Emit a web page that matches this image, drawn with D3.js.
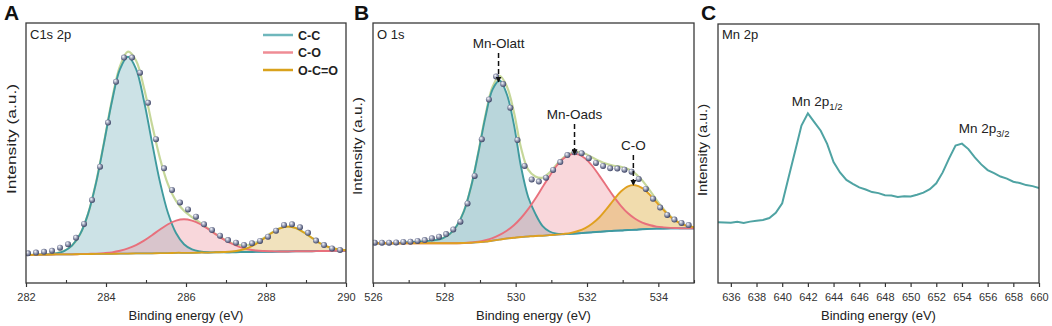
<!DOCTYPE html>
<html>
<head>
<meta charset="utf-8">
<script src="https://cdn.jsdelivr.net/npm/d3@7"></script>
<style>
  body { margin: 0; background: #fff; }
  svg { display: block; font-family: "Liberation Sans", Arial, sans-serif; }
</style>
</head>
<body>
<div id="chart"></div>
<script>
// ---------- Panel A : C1s (component grid + measured points) ----------
const cEnergy = [281.95, 282.15, 282.35, 282.55, 282.75, 282.95, 283.15, 283.35, 283.55, 283.75, 283.95, 284.15, 284.35, 284.55,
  284.75, 284.95, 285.15, 285.35, 285.55, 285.75, 285.95, 286.15, 286.35, 286.55, 286.75, 286.95, 287.15, 287.35, 287.55,
  287.75, 287.95, 288.15, 288.35, 288.55, 288.75, 288.95, 289.15, 289.35, 289.55, 289.75, 289.95, 290.15];
const cBase = [10.8, 10.8, 10.9, 10.9, 11.0, 11.0, 11.0, 11.1, 11.1, 11.2, 11.2, 11.2, 11.3, 11.3, 11.4, 11.4, 11.4, 11.5,
  11.5, 11.6, 11.6, 11.6, 11.7, 11.7, 11.8, 11.8, 11.8, 11.9, 11.9, 12.0, 12.0, 12.0, 12.1, 12.1, 12.2, 12.2, 12.2, 12.3,
  12.3, 12.4, 12.4, 12.4];
const cCC = [10.8, 10.8, 10.9, 11.0, 11.4, 12.3, 14.4, 18.7, 26.5, 38.4, 53.8, 69.9, 82.3, 87.0, 82.4, 70.0, 54.1, 38.8,
  26.9, 19.2, 14.9, 12.9, 12.1, 11.8, 11.8, 11.8, 11.8, 11.9, 11.9, 12.0, 12.0, 12.0, 12.1, 12.1, 12.2, 12.2, 12.2, 12.3,
  12.3, 12.4, 12.4, 12.4];
const cCO = [10.8, 10.8, 10.9, 10.9, 11.0, 11.0, 11.0, 11.1, 11.2, 11.3, 11.5, 11.8, 12.4, 13.3, 14.6, 16.3, 18.4, 20.6,
  22.6, 24.0, 24.5, 24.0, 22.7, 20.8, 18.7, 16.7, 15.1, 13.8, 13.0, 12.5, 12.3, 12.2, 12.1, 12.1, 12.2, 12.2, 12.2, 12.3,
  12.3, 12.4, 12.4, 12.4];
const cOCO = [10.8, 10.8, 10.9, 10.9, 11.0, 11.0, 11.0, 11.1, 11.1, 11.2, 11.2, 11.2, 11.3, 11.3, 11.4, 11.4, 11.4, 11.5,
  11.5, 11.6, 11.6, 11.6, 11.7, 11.7, 11.8, 11.9, 12.1, 12.6, 13.5, 15.0, 17.1, 19.3, 21.0, 21.7, 21.1, 19.4, 17.3, 15.3,
  13.9, 13.1, 12.7, 12.5];
const cFit = [10.8, 10.8, 10.9, 11.0, 11.4, 12.3, 14.4, 18.7, 26.5, 38.6, 54.1, 70.5, 83.4, 89.0, 85.6, 75.0, 61.0, 47.9,
  37.9, 31.6, 27.8, 25.3, 23.2, 21.0, 18.7, 16.8, 15.3, 14.6, 14.6, 15.6, 17.3, 19.4, 21.1, 21.7, 21.1, 19.4, 17.3, 15.3,
  13.9, 13.1, 12.7, 12.5];
const cPointE = [282.05, 282.25, 282.45, 282.65, 282.85, 283.05, 283.25, 283.45, 283.65, 283.85, 284.05, 284.25, 284.45,
  284.65, 284.85, 285.05, 285.25, 285.45, 285.65, 285.85, 286.05, 286.25, 286.45, 286.65, 286.85, 287.05, 287.25, 287.45,
  287.65, 287.85, 288.05, 288.25, 288.45, 288.65, 288.85, 289.05, 289.25, 289.45, 289.65, 289.85];
const cPoint = [11.4, 11.7, 12.0, 12.4, 13.6, 14.9, 17.4, 22.7, 31.9, 44.7, 61.7, 77.4, 86.7, 86.7, 80.9, 69.3, 55.3, 44.1,
  35.8, 31.0, 28.3, 25.5, 22.6, 20.4, 18.2, 16.5, 15.5, 14.6, 15.3, 16.2, 17.8, 20.1, 22.3, 22.6, 21.4, 19.3, 16.3, 14.6,
  13.3, 12.7];
const cNames = ["C-C", "C-O", "O-C=O"];

// ---------- Panel B : O 1s ----------
const oEnergy = [525.95, 526.15, 526.35, 526.55, 526.75, 526.95, 527.15, 527.35, 527.55, 527.75, 527.95, 528.15, 528.35,
  528.55, 528.75, 528.95, 529.15, 529.35, 529.55, 529.75, 529.95, 530.15, 530.35, 530.55, 530.75, 530.95, 531.15, 531.35,
  531.55, 531.75, 531.95, 532.15, 532.35, 532.55, 532.75, 532.95, 533.15, 533.35, 533.55, 533.75, 533.95, 534.15, 534.35,
  534.55, 534.75, 534.95, 535.15];
const oBase = [15.3, 15.3, 15.3, 15.3, 15.3, 15.3, 15.3, 15.3, 15.3, 15.3, 15.3, 15.3, 15.3, 15.4, 15.5, 15.7, 15.9, 16.3,
  16.7, 17.1, 17.4, 17.7, 17.9, 18.1, 18.2, 18.4, 18.6, 18.7, 18.9, 19.1, 19.3, 19.5, 19.7, 19.9, 20.1, 20.2, 20.4, 20.5,
  20.7, 20.8, 20.9, 20.9, 21.0, 21.0, 21.0, 21.0, 21.0];
const oLatt = [15.3, 15.3, 15.3, 15.3, 15.3, 15.6, 15.7, 15.9, 16.2, 16.5, 17.2, 18.8, 22.0, 27.6, 37.0, 49.8, 63.7, 74.4,
  77.9, 72.7, 61.0, 44.7, 33.1, 26.7, 22.0, 19.8, 19.0, 18.9, 18.9, 19.1, 19.3, 19.5, 19.7, 19.9, 20.1, 20.2, 20.4, 20.5,
  20.7, 20.8, 20.9, 20.9, 21.0, 21.0, 21.0, 21.0, 21.0];
const oAds = [15.3, 15.3, 15.3, 15.3, 15.3, 15.3, 15.3, 15.3, 15.3, 15.3, 15.3, 15.3, 15.3, 15.4, 15.6, 15.9, 16.5, 17.3,
  18.5, 20.1, 22.2, 25.0, 28.4, 32.4, 36.8, 41.1, 45.1, 48.0, 49.5, 49.5, 47.9, 45.0, 41.2, 37.2, 33.2, 29.7, 26.8, 24.7,
  23.2, 22.3, 21.7, 21.4, 21.2, 21.1, 21.0, 21.0, 21.0];
const oCO = [15.3, 15.3, 15.3, 15.3, 15.3, 15.3, 15.3, 15.3, 15.3, 15.3, 15.3, 15.3, 15.3, 15.4, 15.5, 15.7, 15.9, 16.3,
  16.7, 17.1, 17.4, 17.7, 17.9, 18.1, 18.2, 18.4, 18.6, 18.9, 19.3, 20.0, 21.1, 22.9, 25.3, 28.5, 32.0, 35.2, 37.2, 37.6,
  36.5, 34.1, 31.0, 28.0, 25.3, 23.4, 22.2, 21.6, 21.2];
const oFit = [15.3, 15.3, 15.3, 15.3, 15.3, 15.6, 15.7, 15.9, 16.2, 16.5, 17.2, 18.8, 22.0, 27.7, 37.1, 50.0, 64.3, 75.4,
  79.7, 75.7, 65.8, 52.0, 43.6, 41.0, 40.5, 42.5, 45.6, 48.3, 49.9, 50.4, 49.7, 48.3, 46.9, 45.8, 45.1, 44.7, 43.8, 42.2,
  39.4, 35.8, 31.9, 28.4, 25.5, 23.5, 22.3, 21.6, 21.2];
const oPointE = [526.05, 526.25, 526.45, 526.65, 526.85, 527.05, 527.25, 527.45, 527.65, 527.85, 528.05, 528.25, 528.45,
  528.65, 528.85, 529.05, 529.25, 529.45, 529.65, 529.85, 530.05, 530.25, 530.45, 530.65, 530.85, 531.05, 531.25, 531.45,
  531.65, 531.85, 532.05, 532.25, 532.45, 532.65, 532.85, 533.05, 533.25, 533.45, 533.65, 533.85, 534.05, 534.25, 534.45,
  534.65, 534.85];
const oPoint = [15.5, 15.5, 15.5, 15.6, 15.8, 15.9, 16.2, 16.5, 17.2, 17.8, 18.8, 20.6, 23.6, 30.6, 41.2, 55.3, 70.6, 79.4,
  76.5, 67.4, 55.0, 45.0, 39.8, 39.0, 40.5, 43.5, 46.5, 49.2, 50.3, 49.9, 48.0, 46.2, 45.0, 44.1, 44.0, 43.6, 42.8, 40.0,
  36.2, 32.4, 29.0, 26.2, 24.4, 23.1, 22.3];
const oLabels = ["Mn-Olatt", "Mn-Oads", "C-O"];
const oLabelE = [529.52, 531.65, 533.3];
const oLabelY = [90.4, 63.1, 51.2];
const oTipY = [77.3, 49.4, 37.6];

// ---------- Panel C : Mn 2p ----------
const mEnergy = [635.0, 635.5, 636.0, 636.5, 637.0, 637.5, 638.0, 638.5, 639.0, 639.5, 640.0, 640.5, 641.0, 641.5, 642.0,
  642.5, 643.0, 643.5, 644.0, 644.5, 645.0, 645.5, 646.0, 646.5, 647.0, 647.5, 648.0, 648.5, 649.0, 649.5, 650.0, 650.5,
  651.0, 651.5, 652.0, 652.5, 653.0, 653.5, 654.0, 654.5, 655.0, 655.5, 656.0, 656.5, 657.0, 657.5, 658.0, 658.5, 659.0,
  659.5, 660.0];
const mIntensity = [23.5, 23.4, 23.3, 23.6, 23.2, 23.7, 24.0, 24.3, 25.1, 27.1, 30.8, 40.8, 50.8, 60.8, 65.5, 62.1, 58.8,
  53.7, 46.7, 42.7, 39.8, 38.3, 36.9, 36.1, 35.1, 34.7, 33.9, 33.8, 33.2, 33.5, 33.4, 34.1, 34.9, 36.2, 38.5, 42.7, 48.1,
  53.1, 53.8, 51.7, 48.5, 45.8, 43.6, 42.4, 41.1, 40.3, 39.1, 38.6, 37.8, 37.4, 36.7];
const mLabelE = [640.75, 653.75];
const mLabelY = [68.5, 57.8];
const mSub = ["1/2", "3/2"];

const width = 1052, height = 326, bottom = 283;

const svg = d3.select("#chart")
  .append("svg")
  .attr("width", width)
  .attr("height", height)
  .attr("viewBox", [0, 0, width, height]);

const defs = svg.append("defs");

// shaded "ball" for measured points
const grad = defs.append("radialGradient")
  .attr("id", "ball")
  .attr("cx", "45%").attr("cy", "45%").attr("r", "60%")
  .attr("fx", "35%").attr("fy", "30%");
grad.append("stop").attr("offset", "0%").attr("stop-color", "#ffffff");
grad.append("stop").attr("offset", "35%").attr("stop-color", "#b4b9cc");
grad.append("stop").attr("offset", "100%").attr("stop-color", "#2c3357");

defs.append("marker")
  .attr("id", "arrow")
  .attr("viewBox", "0 0 10 10")
  .attr("refX", 9).attr("refY", 5)
  .attr("markerWidth", 4).attr("markerHeight", 4)
  .attr("orient", "auto")
  .append("path")
  .attr("d", "M0,0L10,5L0,10z")
  .attr("fill", "#111");

const colors = {
  teal: "#3f9a9e",
  pink: "#e8707c",
  gold: "#d9a21c",
  fit: "#c6d79a",
  base: "#4a8fd6"
};

function panel(opt) {
  const x = d3.scaleLinear().domain(opt.domain).range([opt.left, opt.right]);
  const y = d3.scaleLinear().domain([0, 100]).range([bottom, opt.top]);
  const g = svg.append("g");

  defs.append("clipPath").attr("id", "clip-" + opt.id)
    .append("rect")
    .attr("x", opt.left).attr("y", opt.top)
    .attr("width", opt.right - opt.left).attr("height", bottom - opt.top);

  const plot = g.append("g").attr("clip-path", `url(#clip-${opt.id})`);

  // major ticks + labels
  const ax = g.append("g")
    .attr("transform", `translate(0,${bottom})`)
    .call(d3.axisBottom(x)
      .tickValues(opt.major)
      .tickSize(4)
      .tickSizeOuter(0)
      .tickPadding(6)
      .tickFormat(d3.format("d")));
  ax.select(".domain").remove();
  ax.attr("font-family", null).attr("font-size", null);
  ax.selectAll("line").attr("stroke", "#333").attr("stroke-width", 1.2);
  ax.selectAll("text").attr("font-size", 11).attr("fill", "#333");

  // minor ticks (inward)
  if (opt.minor.length) {
    const mn = g.append("g")
      .attr("transform", `translate(0,${bottom})`)
      .call(d3.axisBottom(x).tickValues(opt.minor).tickSize(-3).tickSizeOuter(0).tickFormat(""));
    mn.select(".domain").remove();
    mn.selectAll("line").attr("stroke", "#333").attr("stroke-width", 1.1);
  }

  // axis titles
  g.append("text")
    .attr("x", (opt.left + opt.right) / 2)
    .attr("y", 320)
    .attr("text-anchor", "middle")
    .attr("font-size", 13)
    .attr("fill", "#222")
    .text("Binding energy (eV)");

  g.append("text")
    .attr("transform", `translate(${opt.ytx},${opt.yty}) rotate(-90)`)
    .attr("text-anchor", "middle")
    .attr("font-size", 13)
    .attr("fill", "#222")
    .attr("textLength", opt.ytLen)
    .attr("lengthAdjust", "spacingAndGlyphs")
    .text("Intensity (a.u.)");

  // panel letter and core-level name
  svg.append("text")
    .attr("x", opt.letterX).attr("y", 20)
    .attr("font-size", 21).attr("font-weight", "bold")
    .attr("fill", "#111")
    .text(opt.letter);

  g.append("text")
    .attr("x", opt.left + 4).attr("y", 39)
    .attr("font-size", 13).attr("fill", "#222")
    .text(opt.name);

  return { x, y, g, plot };
}

function drawFit(p, energy, base, comps, fit, pointE, point) {
  const { x, y, plot } = p;

  comps.forEach(c => {
    const area = d3.area()
      .curve(d3.curveCatmullRom)
      .x((d, i) => x(energy[i]))
      .y0((d, i) => y(base[i]))
      .y1(d => y(d));
    plot.append("path")
      .datum(c.values)
      .attr("d", area)
      .attr("fill", c.fill)
      .attr("fill-opacity", c.opacity);
  });

  const line = d3.line()
    .curve(d3.curveCatmullRom)
    .x((d, i) => x(energy[i]))
    .y(d => y(d));

  plot.append("path")
    .datum(base)
    .attr("d", line)
    .attr("fill", "none")
    .attr("stroke", colors.base)
    .attr("stroke-width", 1.6);

  // envelope under the component outlines
  plot.append("path")
    .datum(fit)
    .attr("d", line)
    .attr("fill", "none")
    .attr("stroke", colors.fit)
    .attr("stroke-width", 2.2);

  comps.forEach(c => {
    plot.append("path")
      .datum(c.values)
      .attr("d", line)
      .attr("fill", "none")
      .attr("stroke", c.stroke)
      .attr("stroke-width", 1.9);
  });

  plot.append("g")
    .selectAll("circle")
    .data(point)
    .join("circle")
    .attr("cx", (d, i) => x(pointE[i]))
    .attr("cy", d => y(d))
    .attr("r", 3)
    .attr("fill", "url(#ball)");
}

function frame(p, opt) {
  p.g.append("rect")
    .attr("x", opt.left).attr("y", opt.top)
    .attr("width", opt.right - opt.left)
    .attr("height", bottom - opt.top)
    .attr("fill", "none")
    .attr("stroke", "#3a3a3a")
    .attr("stroke-width", 1.3);
}

// ---------------- A ----------------
const optA = {
  id: "a", letter: "A", letterX: 4, name: "C1s 2p",
  left: 26, right: 346, top: 23,
  domain: [282, 290],
  major: [282, 284, 286, 288, 290],
  minor: [283, 285, 287, 289],
  ytx: 16, yty: 139, ytLen: 110
};
const pA = panel(optA);
drawFit(pA, cEnergy, cBase, [
  { values: cCC, fill: "#8fbfc8", opacity: 0.45, stroke: colors.teal },
  { values: cCO, fill: "#ee9aa6", opacity: 0.4, stroke: colors.pink },
  { values: cOCO, fill: "#dcb75a", opacity: 0.4, stroke: colors.gold }
], cFit, cPointE, cPoint);
frame(pA, optA);

// legend
const legendColors = ["#6fb7bc", "#ef8c95", colors.gold];
const legend = pA.g.append("g")
  .selectAll("g")
  .data(cNames)
  .join("g")
  .attr("transform", (d, i) => `translate(263,${35 + i * 17.5})`);
legend.append("line")
  .attr("x1", 0).attr("x2", 30)
  .attr("stroke", (d, i) => legendColors[i])
  .attr("stroke-width", 2.5);
legend.append("text")
  .attr("x", 35).attr("dy", "0.36em")
  .attr("font-size", 12.5).attr("font-weight", "bold")
  .attr("fill", "#222")
  .text(d => d);

// ---------------- B ----------------
const optB = {
  id: "b", letter: "B", letterX: 354, name: "O 1s",
  left: 373, right: 694, top: 23,
  domain: [526, 535],
  major: [526, 528, 530, 532, 534],
  minor: [527, 529, 531, 533, 535],
  ytx: 362, yty: 146, ytLen: 98
};
const pB = panel(optB);
drawFit(pB, oEnergy, oBase, [
  { values: oLatt, fill: "#7fb5bd", opacity: 0.55, stroke: colors.teal },
  { values: oAds, fill: "#f2a6b0", opacity: 0.45, stroke: colors.pink },
  { values: oCO, fill: "#e0b24a", opacity: 0.45, stroke: "#e0a020" }
], oFit, oPointE, oPoint);
frame(pB, optB);

oLabels.forEach((name, i) => {
  pB.g.append("text")
    .attr("x", pB.x(oLabelE[i]))
    .attr("y", pB.y(oLabelY[i]))
    .attr("text-anchor", "middle")
    .attr("font-size", 13.5)
    .attr("fill", "#222")
    .text(name);
  pB.g.append("line")
    .attr("x1", pB.x(oLabelE[i])).attr("x2", pB.x(oLabelE[i]))
    .attr("y1", pB.y(oLabelY[i]) + 5)
    .attr("y2", pB.y(oTipY[i]))
    .attr("stroke", "#111")
    .attr("stroke-width", 1.5)
    .attr("stroke-dasharray", "5,3")
    .attr("marker-end", "url(#arrow)");
});

// ---------------- C ----------------
const optC = {
  id: "c", letter: "C", letterX: 701, name: "Mn 2p",
  left: 718, right: 1039, top: 24,
  domain: [635, 660],
  major: d3.range(636, 661, 2),
  minor: [],
  ytx: 707, yty: 150, ytLen: 92
};
const pC = panel(optC);
pC.plot.append("path")
  .datum(mIntensity)
  .attr("d", d3.line()
    .x((d, i) => pC.x(mEnergy[i]))
    .y(d => pC.y(d)))
  .attr("fill", "none")
  .attr("stroke", "#4fa3a3")
  .attr("stroke-width", 2);
frame(pC, optC);

mLabelE.forEach((e, i) => {
  const t = pC.g.append("text")
    .attr("x", pC.x(e))
    .attr("y", pC.y(mLabelY[i]))
    .attr("font-size", 13.5)
    .attr("fill", "#222");
  t.append("tspan").text("Mn 2p");
  t.append("tspan")
    .attr("font-size", 9.5)
    .attr("dy", 4)
    .text(mSub[i]);
});
</script>
</body>
</html>
